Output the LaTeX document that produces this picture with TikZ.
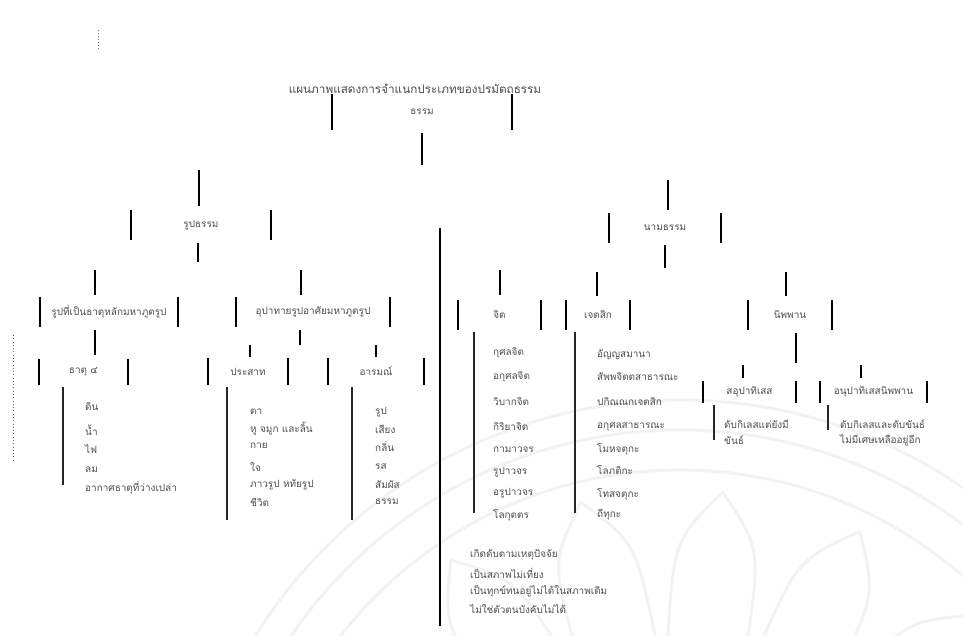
\documentclass[tikz,border=0pt]{standalone}
\usepackage{fontspec}
\newfontfamily\thaifont[Script=Thai]{Loma}
\usepackage{tikz}
\usetikzlibrary{positioning, calc}

\tikzset{
  thai/.style={font=\thaifont\fontsize{8.5}{10}\selectfont, text=black!70, inner sep=0pt},
  bar/.style={line width=1.3pt, black},
  link/.style={line width=1.3pt, black},
  listbar/.style={line width=1.1pt, black!85},
  wm/.style={gray!10, line width=2.5pt},
}
% box drawn with its two side bars only
\newcommand{\sidebox}[6]{%
  \node[thai, minimum width={(#3-#2)*0.03cm}, minimum height={(#5-#4)*0.03cm}] (#1) at ({(#2+#3)/2},{(#4+#5)/2}) {#6};
  \draw[bar] (#1.north west) -- (#1.south west);
  \draw[bar] (#1.north east) -- (#1.south east);
}

\begin{document}
\begin{tikzpicture}[x=0.03cm, y=-0.03cm]
\useasboundingbox (0,0) rectangle (963,635);

% Watermark
\begin{scope}
\clip (0,0) rectangle (963,635);
\coordinate (wmc) at (680,900);
\foreach \r in {500, 470, 430} {
    \draw[wm] (wmc) circle (\r);
}
\foreach \a in {196,216,...,344} {
    \draw[wm] ($(wmc)+(\a-9:250)$) .. controls ($(wmc)+(\a-7:360)$) .. ($(wmc)+(\a:410)$)
        .. controls ($(wmc)+(\a+7:360)$) .. ($(wmc)+(\a+9:250)$);
}
\end{scope}

% Margin marks
\draw[black!60, dotted, line width=0.8pt] (13,335) -- (13,460);
\draw[black!50, dotted, line width=0.6pt] (98,30) -- (98,50);

% Title and root
\node[thai, font=\thaifont\fontsize{10}{12}\selectfont] (title) at (415,89) {แผนภาพแสดงการจำแนกประเภทของปรมัตถธรรม};
\sidebox{root}{332}{512}{94}{130}{ธรรม}
\coordinate (rootout) at (422,165);
\draw[link] ($(root.south)+(0,3)$) -- (rootout);

% Rupa
\coordinate (rupin) at (199,170);
\sidebox{rup}{131}{271}{210}{240}{รูปธรรม}
\draw[link] (rupin) -- ($(rupin |- rup.north)+(0,-4)$);
\coordinate (rupout) at (198,262);
\draw[link] ($(rupout |- rup.south)+(0,3)$) -- (rupout);

% Nama
\coordinate (namin) at (668,180);
\sidebox{nam}{609}{721}{213}{243}{นามธรรม}
\draw[link] (namin) -- ($(namin |- nam.north)+(0,-3)$);
\coordinate (namout) at (665,268);
\draw[link] ($(namout |- nam.south)+(0,2)$) -- (namout);

% Third branch
\coordinate (midtop) at (440,228);
\coordinate (midbot) at (440,626);
\draw[link] (midtop) -- (midbot);

% Rupa children
\coordinate (mahain) at (95,270);
\sidebox{mahabhut}{40}{178}{297}{327}{รูปที่เป็นธาตุหลักมหาภูตรูป}
\draw[link] (mahain) -- ($(mahain |- mahabhut.north)+(0,-2)$);
\coordinate (upain) at (301,270);
\sidebox{upada}{236}{390}{297}{327}{อุปาทายรูปอาศัยมหาภูตรูป}
\draw[link] (upain) -- ($(upain |- upada.north)+(0,-2)$);

% Nama children
\coordinate (jitin) at (500,270);
\sidebox{jit}{458}{541}{300}{330}{จิต}
\draw[link] (jitin) -- ($(jitin |- jit.north)+(0,-5)$);
\coordinate (chetin) at (597,272);
\sidebox{chet}{566}{630}{300}{330}{เจตสิก}
\draw[link] (chetin) -- ($(chetin |- chet.north)+(0,-4)$);
\coordinate (nibin) at (786,272);
\sidebox{nib}{748}{832}{300}{330}{นิพพาน}
\draw[link] (nibin) -- ($(nibin |- nib.north)+(0,-4)$);

% Dhatu 4
\sidebox{dhatu}{39}{128}{359}{385}{ธาตุ ๔}
\draw[link] ($(mahain |- mahabhut.south)+(0,3)$) -- ($(mahain |- dhatu.north)+(0,-4)$);
\coordinate (dhtop) at (63,387);
\coordinate (dhbot) at (63,485);
\draw[listbar] (dhtop) -- (dhbot);
\foreach \t/\y [count=\i] in {ดิน/407, น้ำ/430, ไฟ/449, ลม/470, อากาศธาตุที่ว่างเปล่า/488} {
    \node[thai, anchor=west] (dh\i) at (85,\y) {\t};
}

% Upada children
\coordinate (upaout) at (300,345);
\draw[link] ($(upaout |- upada.south)+(0,3)$) -- (upaout);
\sidebox{pasada}{208}{288}{358}{385}{ประสาท}
\sidebox{arom}{328}{424}{358}{385}{อารมณ์}
\coordinate (pasin) at (250,345);
\draw[link] (pasin) -- ($(pasin |- pasada.north)+(0,-1)$);
\coordinate (aromin) at (376,345);
\draw[link] (aromin) -- ($(aromin |- arom.north)+(0,-1)$);
\coordinate (pastop) at (227,387);
\coordinate (pasbot) at (227,520);
\draw[listbar] (pastop) -- (pasbot);
\foreach \t/\y [count=\i] in {ตา/412, หู จมูก และลิ้น/429, กาย/446, ใจ/467, ภาวรูป หทัยรูป/485, ชีวิต/502} {
    \node[thai, anchor=west] (pa\i) at (250,\y) {\t};
}
\coordinate (aromtop) at (352,387);
\coordinate (arombot) at (352,520);
\draw[listbar] (aromtop) -- (arombot);
\foreach \t/\y [count=\i] in {รูป/412, เสียง/429, กลิ่น/446, รส/467, สัมผัส/485, ธรรม/502} {
    \node[thai, anchor=west] (ar\i) at (375,\y) {\t};
}

% Jit list
\coordinate (jittop) at (474,332);
\coordinate (jitbot) at (474,513);
\draw[listbar] (jittop) -- (jitbot);
\foreach \t/\y [count=\i] in {กุศลจิต/353, อกุศลจิต/377, วิบากจิต/402, กิริยาจิต/427, กามาวจร/450, รูปาวจร/472, อรูปาวจร/493, โลกุตตร/515} {
    \node[thai, anchor=west] (ji\i) at (493,\y) {\t};
}

% Chetasik list
\coordinate (chettop) at (575,332);
\coordinate (chetbot) at (575,513);
\draw[listbar] (chettop) -- (chetbot);
\foreach \t/\y [count=\i] in {อัญญสมานา/355, สัพพจิตตสาธารณะ/377, ปกิณณกเจตสิก/402, อกุศลสาธารณะ/427, โมหจตุกะ/449, โลภติกะ/470, โทสจตุกะ/494, ถีทุกะ/515} {
    \node[thai, anchor=west] (ch\i) at (597,\y) {\t};
}

% Nibbana children
\coordinate (nibout) at (796,363);
\draw[link] ($(nibout |- nib.south)+(0,3)$) -- (nibout);
\sidebox{saupa}{703}{796}{381}{403}{สอุปาทิเสส}
\sidebox{anupa}{820}{927}{381}{403}{อนุปาทิเสสนิพพาน}
\coordinate (saupain) at (743,365);
\draw[link] (saupain) -- ($(saupain |- saupa.north)+(0,-3)$);
\coordinate (anupain) at (861,365);
\draw[link] (anupain) -- ($(anupain |- anupa.north)+(0,-3)$);
\coordinate (satop) at (714,405);
\coordinate (sabot) at (714,440);
\draw[listbar] (satop) -- (sabot);
\node[thai, anchor=west] (sa1) at (724,424) {ดับกิเลสแต่ยังมี};
\node[thai, anchor=west] (sa2) at (724,440) {ขันธ์};
\coordinate (antop) at (828,405);
\coordinate (anbot) at (828,430);
\draw[listbar] (antop) -- (anbot);
\node[thai, anchor=west] (an1) at (840,424) {ดับกิเลสและดับขันธ์};
\node[thai, anchor=west] (an2) at (840,440) {ไม่มีเศษเหลืออยู่อีก};

% Bottom list
\foreach \t/\y [count=\i] in {เกิดดับตามเหตุปัจจัย/555, เป็นสภาพไม่เที่ยง/573, เป็นทุกข์ทนอยู่ไม่ได้ในสภาพเดิม/591, ไม่ใช่ตัวตนบังคับไม่ได้/609} {
    \node[thai, anchor=west] (md\i) at (470,\y) {\t};
}
\end{tikzpicture}
\end{document}
